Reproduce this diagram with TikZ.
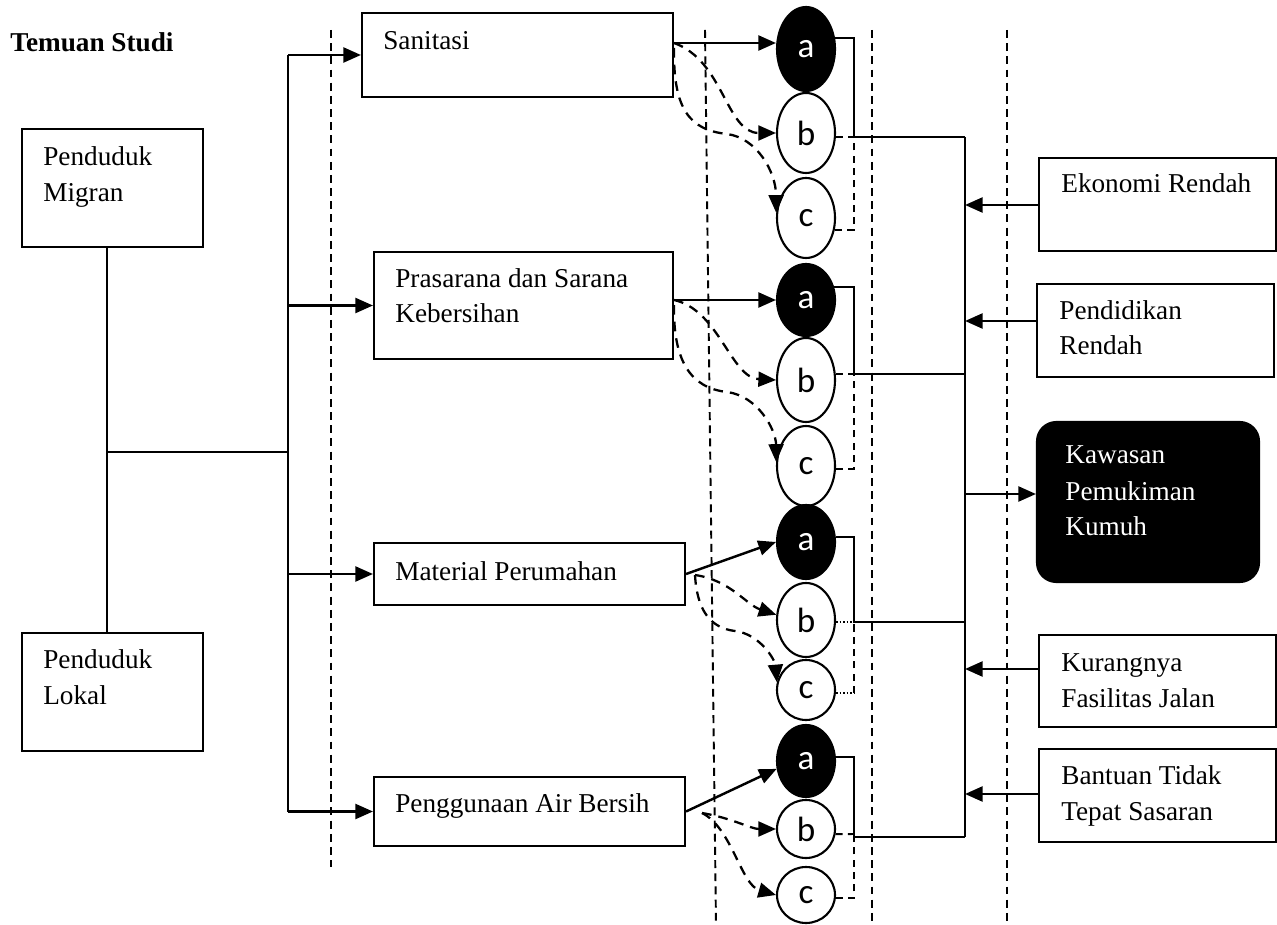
\documentclass[tikz,border=0pt]{standalone}
\usepackage{fontspec}
\setmainfont{Liberation Serif}
\newfontfamily\circfont{Carlito}
\usetikzlibrary{arrows.meta,shapes.geometric,fit,calc}
\begin{document}
\begin{tikzpicture}[x=0.02cm, y=-0.02cm,
 box/.style={draw, line width=1.2pt, inner sep=0pt, rectangle},
 txt/.style={anchor=base west, inner sep=0pt, font=\fontsize{15.5pt}{20pt}\selectfont},
 ell/.style={draw, ellipse, line width=1.2pt, inner sep=0pt, minimum width=1.16cm, font=\circfont\fontsize{20pt}{22pt}\selectfont},
 ella/.style={ell, fill=black, text=white},
 ellw/.style={ell, fill=white},
 arr/.style={line width=1.4pt, -{Triangle[length=10pt,width=8.5pt]}},
 conn/.style={line width=1.2pt},
 dcurve/.style={line width=1.3pt, dash pattern=on 5.5pt off 4pt, -{Triangle[length=10pt,width=8.5pt]}},
 sep/.style={line width=1.1pt, dash pattern=on 4.5pt off 3pt},
 dline/.style={line width=1.1pt, dash pattern=on 4pt off 3pt},
 dotline/.style={line width=0.6pt, dash pattern=on 1pt off 1pt}]
\useasboundingbox (0,0) rectangle (1277,925);

% separators
\draw[sep] (331,30) -- (331,867);
\draw[sep] (705,30) -- (716,925);
\draw[sep] (872,30) -- (872,925);
\draw[sep] (1007,30) -- (1007,925);

% title
\node[txt, font=\bfseries\fontsize{15.5pt}{20pt}\selectfont] (title) at (10,52) {Temuan Studi};

% left boxes
\node[box, fit={(22,129) (203,247)}] (mig) {};
\node[txt] (mig1) at (43,166) {Penduduk};
\node[txt] (mig2) at (43,202) {Migran};
\node[box, fit={(22,633) (203,751)}] (lok) {};
\node[txt] (lok1) at (43,668) {Penduduk};
\node[txt] (lok2) at (43,704) {Lokal};

% middle boxes
\node[box, fit={(362,13) (673,97)}] (san) {};
\node[txt] (san1) at (383,50) {Sanitasi};
\node[box, fit={(374,252) (673,359)}] (pras) {};
\node[txt] (pras1) at (395,288) {Prasarana dan Sarana};
\node[txt] (pras2) at (395,323) {Kebersihan};
\node[box, fit={(374,543) (685,605)}] (mat) {};
\node[txt] (mat1) at (395,580) {Material Perumahan};
\node[box, fit={(374,777) (685,846)}] (peng) {};
\node[txt] (peng1) at (395,812) {Penggunaan Air Bersih};

% right boxes
\node[box, fit={(1039,158) (1276,251)}] (eko) {};
\node[txt] (eko1) at (1061,193) {Ekonomi Rendah};
\node[box, fit={(1037,284) (1274,377)}] (pend) {};
\node[txt] (pend1) at (1059,320) {Pendidikan};
\node[txt] (pend2) at (1059,355) {Rendah};
\node[box, fill=black, rounded corners=11pt, fit={(1037,422) (1259,582)}] (kaw) {};
\node[txt, text=white] (kaw1) at (1065,463) {Kawasan};
\node[txt, text=white] (kaw2) at (1065,500) {Pemukiman};
\node[txt, text=white] (kaw3) at (1065,535) {Kumuh};
\node[box, fit={(1039,635) (1276,727)}] (kur) {};
\node[txt] (kur1) at (1061,671) {Kurangnya};
\node[txt] (kur2) at (1061,707) {Fasilitas Jalan};
\node[box, fit={(1039,749) (1276,842)}] (ban) {};
\node[txt] (ban1) at (1061,784) {Bantuan Tidak};
\node[txt] (ban2) at (1061,820) {Tepat Sasaran};

% ellipses
\node[ella, minimum height=1.68cm] (a1) at (806,49) {a};
\node[ellw, minimum height=1.60cm] (b1) at (806,133) {b};
\node[ellw, minimum height=1.60cm] (c1) at (806,218) {c};
\node[ella, minimum height=1.44cm] (a2) at (806,300) {a};
\node[ellw, minimum height=1.68cm] (b2) at (806,380) {b};
\node[ellw, minimum height=1.60cm] (c2) at (806,466) {c};
\node[ella, minimum height=1.48cm] (a3) at (806,542) {a};
\node[ellw, minimum height=1.48cm] (b3) at (806,620) {b};
\node[ellw, minimum height=1.20cm] (c3) at (806,690) {c};
\node[ella, minimum height=1.44cm] (a4) at (806,761) {a};
\node[ellw, minimum height=1.16cm] (b4) at (806,829) {b};
\node[ellw, minimum height=1.12cm] (c4) at (806,895) {c};

% left tree
\coordinate (jL) at (107,452);
\coordinate (bus) at (288,452);
\draw[conn] (jL |- mig.south) -- (jL |- lok.north);
\draw[conn] (jL) -- (bus);
\draw[conn] (bus |- san.west) -- (bus |- peng.west);
\draw[arr] (bus |- san.west) -- (san.west);
\draw[arr] (bus |- pras.west) -- (pras.west);
\draw[arr] (bus |- mat.west) -- (mat.west);
\draw[arr] (bus |- peng.west) -- (peng.west);

% group 1
\draw[arr] (san.east |- 0,43) -- (a1.west |- 0,43);
\draw[dcurve] (san.east |- 0,43) .. controls +(50,18) and +(-50,0) .. (b1.west);
\draw[dcurve] (san.east |- 0,48) .. controls (673,110) and (690,130) .. (727,134)
  .. controls (757,138) and (776,172) .. (c1.170);
% group 2
\draw[arr] (pras.east |- a2.west) -- (a2.west);
\draw[dcurve] (pras.east |- a2.west) .. controls +(45,10) and +(-45,-2) .. (b2.west);
\draw[dcurve] (pras.east |- 0,305) .. controls (673,360) and (690,388) .. (727,392)
  .. controls (758,396) and (776,430) .. (c2.172);
% group 3
\coordinate (m3) at (695,575);
\draw[arr] (mat.east) -- (a3.west);
\draw[dcurve] (m3) .. controls +(35,5) and +(-30,-10) .. (b3.170);
\draw[dcurve] (m3) .. controls (697,610) and (710,628) .. (735,631)
  .. controls (760,634) and (775,660) .. (c3.165);
% group 4
\coordinate (m4) at (702,813);
\draw[arr] (peng.east) -- (a4.195);
\draw[dcurve] (m4) .. controls +(30,5) and +(-25,0) .. (b4.west);
\draw[dcurve] (m4) .. controls +(30,15) and +(-35,-10) .. (c4.west);

% right side of groups
\coordinate (k1) at (854,137);
\coordinate (k2) at (854,374);
\coordinate (k3) at (854,622);
\coordinate (k4) at (854,837);
\coordinate (rb) at (965,137);

\draw[conn] (a1.20) -| (k1) -- (rb |- k1);
\draw[dline] (b1.east |- k1) -- (k1);
\draw[dline] (c1.-22) -| (k1);

\draw[conn] (a2.25) -| (k2) -- (rb |- k2);
\draw[dline] (b2.east |- k2) -- (k2);
\draw[dline] (c2.-5) -| (k2);

\draw[conn] (a3.10) -| (k3) -- (rb |- k3);
\draw[dotline] (b3.east |- k3) -- (k3);
\draw[dotline] (c3.east |- 0,693) -- (854,693);
\draw[dline] (854,693) -- (k3);

\draw[conn] (a4.8) -| (k4) -- (rb |- k4);
\draw[dline] (b4.-10) -- (854,834);
\draw[dline] (c4.east |- 0,898) -| (854,834);

% right bus
\draw[conn] (rb) -- (rb |- k4);
\draw[arr] (eko.west |- 0,205) -- (rb |- 0,205);
\draw[arr] (pend.west |- 0,321) -- (rb |- 0,321);
\draw[arr] (rb |- 0,494) -- (kaw.west |- 0,494);
\draw[arr] (kur.west |- 0,669) -- (rb |- 0,669);
\draw[arr] (ban.west |- 0,794) -- (rb |- 0,794);
\end{tikzpicture}
\end{document}
